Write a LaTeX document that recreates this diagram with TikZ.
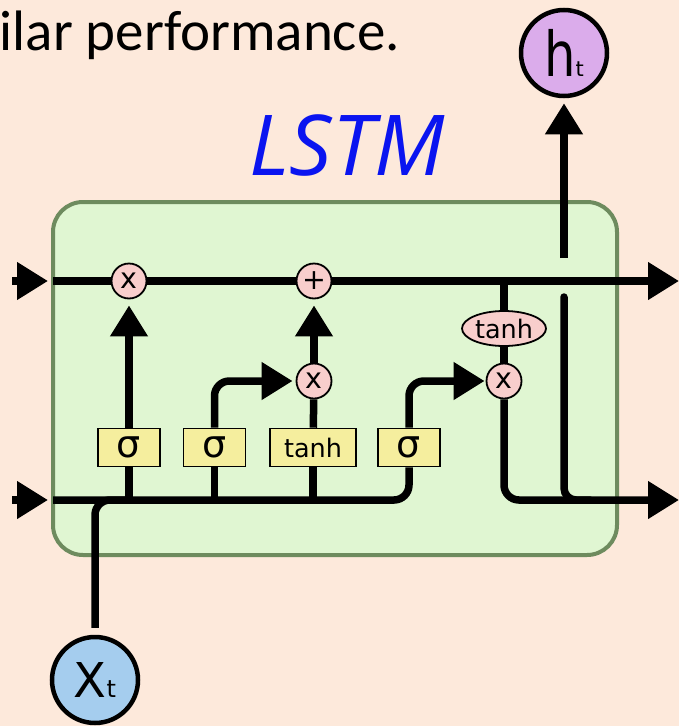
\documentclass[tikz,border=0pt]{standalone}
\usepackage{fontspec}
\setmainfont{DejaVu Sans}
\newfontfamily\calfont{Carlito}
\newfontfamily\handfont{Open Sans}
\usetikzlibrary{arrows.meta,shapes.geometric}
\definecolor{peach}{HTML}{FDE9DB}
\definecolor{cellfill}{HTML}{E0F6D2}
\definecolor{celledge}{HTML}{6E8B5E}
\definecolor{pinkop}{HTML}{F8CECC}
\definecolor{yellowgate}{HTML}{F5EE9E}
\definecolor{lilac}{HTML}{DBACEB}
\definecolor{skyblue}{HTML}{A5CDEE}
\definecolor{inkblue}{HTML}{0A14F0}
\tikzset{
  wire/.style={line width=7.5pt, draw=black},
  bigarrow/.style={-{Triangle[width=36pt,length=31pt]}},
  opnode/.style={circle, draw=black, line width=1.8pt, fill=pinkop, minimum size=35pt, inner sep=0pt, font=\fontsize{28.5}{28.5}\selectfont},
  gatebox/.style={rectangle, draw=black, line width=1.6pt, fill=yellowgate, minimum height=38pt, inner sep=0pt},
  sigmabox/.style={gatebox, minimum width=62pt, font=\fontsize{38}{38}\selectfont},
  tanhbox/.style={gatebox, minimum width=86pt, font=\fontsize{25.5}{25.5}\selectfont},
  tanhoval/.style={ellipse, draw=black, line width=1.8pt, fill=pinkop, minimum width=84pt, minimum height=35pt, inner sep=0pt, font=\fontsize{25.5}{25.5}\selectfont},
  iocircle/.style={circle, draw=black, line width=4.5pt, minimum size=86pt, inner sep=0pt},
  cellbox/.style={rectangle, rounded corners=30pt, draw=celledge, line width=4pt, fill=cellfill, minimum width=564pt, minimum height=353pt}
}
\begin{document}
\begin{tikzpicture}[x=1pt,y=-1pt]
\useasboundingbox (0,0) rectangle (679,726);
\fill[peach] (0,0) rectangle (679,726);

% heading text (cut at the left edge)
\node[anchor=base east, inner sep=0pt, font=\calfont\fontsize{57}{57}\selectfont] (title) at (400,50) {ilar performance.};

% handwritten label
\node[text=inkblue, inner sep=0pt, font=\handfont\itshape\fontsize{84}{84}\selectfont] (lstm) at (347,145) {LSTM};

% cell
\node[cellbox] (cell) at (335,378.5) {};

% operators and gates
\node[opnode] (f) at (129,281) {x};
\node[opnode] (plus) at (314,281) {+};
\node[opnode] (ix) at (314,381) {x};
\node[opnode] (ox) at (504,381) {x};
\node[tanhoval] (th) at (504,328.5) {tanh};
\node[sigmabox] (s1) at (129,447.5) {σ};
\node[sigmabox] (s2) at (214.5,447.5) {σ};
\node[tanhbox] (st) at (313,447.5) {tanh};
\node[sigmabox] (s4) at (409,447.5) {σ};

% input / output
\node[iocircle, fill=lilac] (ht) at (564,53) {\fontsize{62}{62}\selectfont\scalebox{0.8}[1]{h}{\fontsize{21}{21}\selectfont t}};
\node[iocircle, fill=skyblue] (xt) at (95,680) {\fontsize{48}{48}\selectfont X{\fontsize{24}{24}\selectfont t}};

% coordinates of free ends
\coordinate (cinL) at (12,281);
\coordinate (cinT) at (48,281);
\coordinate (cstart) at (53,281);
\coordinate (cout) at (679,281);
\coordinate (hinL) at (12,500);
\coordinate (hinT) at (48,500);
\coordinate (hstart) at (53,500);
\coordinate (hout) at (679,500);
\coordinate (tap) at (504,281);
\coordinate (hupTop) at (564,258);
\coordinate (hlowTop) at (564,297);
\coordinate (hjoin) at (590,500);
\coordinate (xmerge) at (130,500);

% incoming arrows at the left
\draw[wire, bigarrow] (cinL) -- (cinT);
\draw[wire, bigarrow] (hinL) -- (hinT);

% cell state line
\draw[wire, bigarrow] (cstart) -- (f) -- (plus) -- (cout);

% hidden / input line
\draw[wire, rounded corners=15pt] (hstart) -| (s4);
\draw[wire, rounded corners=15pt] (xt.north) ++(0,-7) |- (xmerge);
\draw[wire] (s1) -- (s1 |- hstart);
\draw[wire] (s2) -- (s2 |- hstart);
\draw[wire] (st) -- (st |- hstart);

% gates
\draw[wire, bigarrow, shorten >=6pt] (s1) -- (f);
\draw[wire, bigarrow, rounded corners=15pt, shorten >=3pt] (s2) |- (ix);
\draw[wire] (st) -- (ix);
\draw[wire, bigarrow, shorten >=6pt] (ix) -- (plus);
\draw[wire, bigarrow, rounded corners=15pt, shorten >=1pt] (s4) |- (ox);

% output path
\draw[wire] (tap) -- (th);
\draw[wire] (th) -- (ox);
\draw[wire, bigarrow, rounded corners=15pt] (ox) |- (hout);
\draw[wire, line cap=round, rounded corners=12pt] (hlowTop) |- (hjoin);
\draw[wire, bigarrow, shorten >=5pt] (hupTop) -- (ht);
\end{tikzpicture}
\end{document}
